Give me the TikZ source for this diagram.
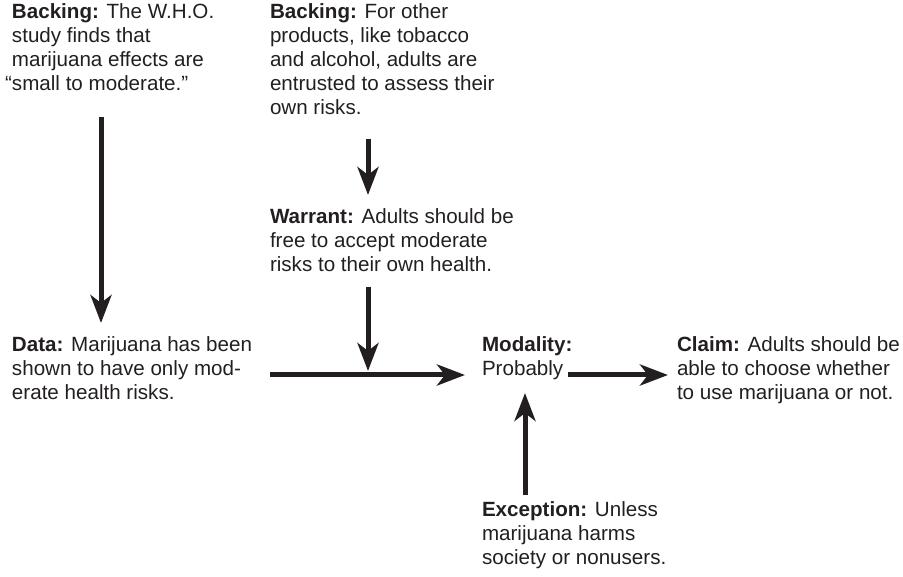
\documentclass[tikz,border=0pt]{standalone}
\usepackage{fontspec}
\setmainfont{Liberation Sans}
\usetikzlibrary{arrows.meta}
\definecolor{ink}{HTML}{231F20}
\begin{document}
\begin{tikzpicture}[x=1pt,y=-1pt,
  txt/.style={anchor=north west,inner sep=0pt,outer sep=0pt,align=left,
    font=\fontsize{20.6}{24}\selectfont,text=ink},
  arr/.style={draw=ink,line width=5pt,
    -{Stealth[length=28pt,width=21pt,inset=8pt]}}]
\useasboundingbox (0,0) rectangle (903,577);

\node[txt] (b1) at (12,4) {\textbf{Backing:} The W.H.O.\\study finds that\\marijuana effects are\\\llap{“}small to moderate.”};
\node[txt] (b2) at (270,4) {\textbf{Backing:} For other\\products, like tobacco\\and alcohol, adults are\\entrusted to assess their\\own risks.};
\node[txt] (w) at (270,209) {\textbf{Warrant:} Adults should be\\free to accept moderate\\risks to their own health.};
\node[txt] (d) at (12,337) {\textbf{Data:} Marijuana has been\\shown to have only mod-\\erate health risks.};
\node[txt] (m) at (482,337) {\textbf{Modality:}\\Probably};
\node[txt] (c) at (677,337) {\textbf{Claim:} Adults should be\\able to choose whether\\to use marijuana or not.};
\node[txt] (e) at (482,502) {\textbf{Exception:} Unless\\marijuana harms\\society or nonusers.};

\coordinate (b1s) at (101,117);
\coordinate (dn) at (101,323);
\coordinate (b2s) at (368,139);
\coordinate (wn) at (368,195);
\coordinate (ws) at (368,287);
\coordinate (j) at (368,371);
\coordinate (de) at (270,375);
\coordinate (mw) at (465,375);
\coordinate (me) at (568,375);
\coordinate (cw) at (668,375);
\coordinate (en) at (525,495);
\coordinate (ms) at (525,393);

\draw[arr] (b1s) -- (dn);
\draw[arr] (b2s) -- (wn);
\draw[arr] (ws) -- (j);
\draw[arr] (de) -- (mw);
\draw[arr] (me) -- (cw);
\draw[arr] (en) -- (ms);
\end{tikzpicture}
\end{document}
